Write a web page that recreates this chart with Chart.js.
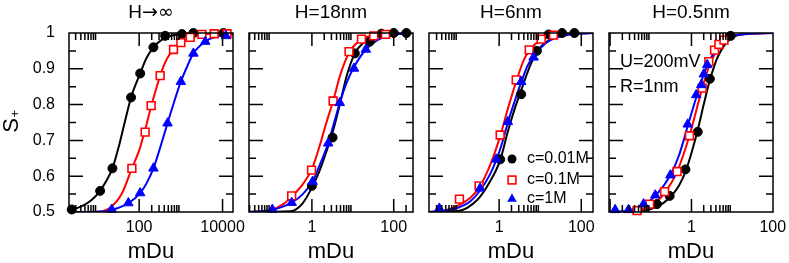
<!DOCTYPE html>
<html>
<head>
<meta charset="utf-8">
<script src="https://cdn.jsdelivr.net/npm/chart.js@4.4.1/dist/chart.umd.min.js"></script>
<style>
html, body { margin: 0; padding: 0; background: #fff; overflow: hidden; }
#wrap { position: relative; width: 789px; height: 263px; overflow: hidden; }
canvas { position: absolute; top: 0; }
</style>
</head>
<body>
<div id="wrap">
<canvas id="c1" width="249" height="263" style="left:0px"></canvas>
<canvas id="c2" width="184" height="263" style="left:239px"></canvas>
<canvas id="c3" width="184" height="263" style="left:419px"></canvas>
<canvas id="c4" width="192" height="263" style="left:599px"></canvas>
</div>
<script>
// panel titles, legend, notes
const titles = ['H\u2192\u221e', 'H=18nm', 'H=6nm', 'H=0.5nm']
const legendLabels = ['c=0.01M', 'c=0.1M', 'c=1M']
const notes = ['U=200mV', 'R=1nm']
const yTicks = [0.5, 0.6, 0.7, 0.8, 0.9, 1]

// x ranges and labelled ticks
const p1Range = [2.08, 17800]
const p2Range = [0.029, 296]
const p3Range = [0.0196, 193]
const p4Range = [0.0094, 101]
const p1XTicks = [100, 10000]
const p2XTicks = [1, 100]
const p3XTicks = [1, 100]
const p4XTicks = [1, 100]
const p1Major = [1, 100, 10000]
const pMajor = [0.01, 1, 100]

// H -> infinity
const p1Black = [[2.42,0.507],[11.6,0.559],[22.9,0.622],[64,0.82],[106,0.887],[220,0.96],[421,0.992],[1060,0.997],[2000,1.0],[10500,1.0]]
const p1Red = [[67,0.622],[139,0.723],[194,0.797],[319,0.881],[667,0.954],[1000,0.973],[1675,0.988],[3200,0.996],[6300,0.998],[12800,0.998]]
const p1Blue = [[22,0.507],[55,0.525],[106,0.553],[220,0.622],[479,0.748],[1000,0.864],[2000,0.943],[3850,0.976],[12000,0.992]]
const p1BlackFit = [[2.08,0.505],[4,0.515],[7,0.532],[11.6,0.559],[16,0.585],[22.9,0.622],[32,0.68],[45,0.75],[64,0.82],[106,0.887],[150,0.93],[220,0.96],[320,0.978],[500,0.99],[1000,0.997],[3000,1.0],[17800,1.0]]
const p1RedFit = [[2.08,0.5],[10,0.501],[20,0.512],[38,0.55],[67,0.622],[100,0.672],[139,0.73],[194,0.795],[250,0.84],[319,0.881],[450,0.925],[667,0.954],[1000,0.975],[1675,0.988],[3200,0.996],[17800,1.0]]
const p1BlueFit = [[2.08,0.5],[10,0.501],[22,0.506],[55,0.525],[106,0.553],[150,0.58],[220,0.622],[320,0.68],[479,0.748],[700,0.81],[1000,0.864],[1400,0.905],[2000,0.943],[3850,0.976],[7000,0.99],[17800,0.997]]

// H = 18nm
const p2Black = [[1.0,0.573],[3.2,0.708],[11.2,0.943],[26,0.976],[50,0.998],[100,1.0],[204,1.0]]
const p2Red = [[0.32,0.545],[0.98,0.617],[3.3,0.81],[8.1,0.948],[16.3,0.983],[32.5,0.992],[63,0.996]]
const p2Blue = [[0.108,0.507],[0.32,0.526],[1.04,0.585],[2.5,0.692],[4.8,0.805],[10.7,0.901],[20.8,0.954]]
const p2BlackFit = [[0.029,0.5],[0.3,0.502],[0.6,0.525],[1,0.568],[1.5,0.612],[2.2,0.665],[3.2,0.722],[4.8,0.8],[7,0.878],[11.2,0.943],[18,0.972],[26,0.985],[50,0.996],[296,1.0]]
const p2RedFit = [[0.029,0.5],[0.1,0.506],[0.2,0.522],[0.32,0.543],[0.6,0.578],[1,0.62],[1.5,0.68],[2.2,0.745],[3.3,0.81],[5,0.885],[8.1,0.945],[16.3,0.983],[32.5,0.994],[63,0.998],[296,1.0]]
const p2BlueFit = [[0.029,0.5],[0.108,0.506],[0.32,0.526],[0.6,0.55],[1.04,0.585],[1.6,0.635],[2.5,0.692],[3.5,0.75],[4.8,0.805],[7,0.86],[10.7,0.905],[20.8,0.954],[40,0.98],[100,0.995],[296,1.0]]

// H = 6nm
const p3Black = [[1.06,0.647],[3.44,0.829],[8.3,0.95],[16,0.996],[34,1.0],[68,1.0]]
const p3Red = [[0.108,0.536],[0.325,0.573],[1.06,0.715],[2.6,0.869],[5.4,0.953],[10.6,0.983],[21,0.994]]
const p3Blue = [[0.035,0.51],[0.344,0.566],[0.85,0.647],[1.63,0.752],[3.44,0.864],[6.9,0.932]]
const p3BlackFit = [[0.0196,0.5],[0.1,0.503],[0.3,0.535],[0.6,0.585],[1.06,0.645],[1.63,0.725],[2.5,0.795],[3.44,0.84],[6,0.915],[10,0.96],[20,0.985],[50,0.997],[193,1.0]]
const p3RedFit = [[0.0196,0.5],[0.05,0.505],[0.108,0.52],[0.2,0.54],[0.325,0.568],[0.6,0.63],[1.06,0.712],[1.6,0.785],[2.6,0.865],[4,0.925],[5.4,0.95],[10.6,0.982],[21,0.994],[60,0.999],[193,1.0]]
const p3BlueFit = [[0.0196,0.5],[0.035,0.502],[0.1,0.512],[0.2,0.53],[0.344,0.56],[0.6,0.605],[0.85,0.645],[1.2,0.695],[1.63,0.75],[2.4,0.81],[3.44,0.862],[5,0.91],[6.9,0.935],[15,0.975],[40,0.993],[193,1.0]]

// H = 0.5nm
const p4Black = [[0.142,0.522],[0.291,0.545],[0.711,0.619],[1.43,0.724],[2.83,0.872],[9.2,0.992]]
const p4Red = [[0.046,0.504],[0.094,0.522],[0.219,0.557],[0.444,0.613],[0.893,0.713],[1.84,0.846],[2.67,0.92],[3.7,0.952],[4.72,0.968],[6.3,0.98]]
const p4Blue = [[0.0133,0.506],[0.0283,0.506],[0.0664,0.522],[0.129,0.547],[0.303,0.603],[0.81,0.745],[1.31,0.827],[1.74,0.855],[2.01,0.885],[2.44,0.911]]
const p4BlackFit = [[0.0094,0.5],[0.05,0.501],[0.142,0.515],[0.291,0.54],[0.5,0.575],[0.711,0.612],[1,0.665],[1.43,0.73],[2,0.8],[2.83,0.868],[4.5,0.935],[9.2,0.985],[20,0.997],[101,1.0]]
const p4RedFit = [[0.0094,0.5],[0.046,0.503],[0.094,0.515],[0.219,0.553],[0.444,0.613],[0.893,0.713],[1.84,0.846],[2.67,0.905],[3.7,0.94],[6.3,0.975],[15,0.995],[101,1.0]]
const p4BlueFit = [[0.0094,0.5],[0.0283,0.504],[0.0664,0.52],[0.129,0.545],[0.303,0.603],[0.5,0.66],[0.81,0.74],[1.31,0.82],[2.01,0.885],[3,0.93],[6,0.975],[15,0.995],[101,1.0]]

const FONT = 'Liberation Sans, Arial, Helvetica, sans-serif'
const SYM_FONT = 'DejaVu Sans, sans-serif'
const BLACK = '#000000', RED = '#ff0000', BLUE = '#0000ff'

function markers(black, red, blue) {
    return [
        { data: blue, pointStyle: 'triangle', pointRadius: 5.5, backgroundColor: BLUE, borderColor: BLUE, borderWidth: 1, clip: false },
        { data: red, pointStyle: 'rect', pointRadius: 5.5, backgroundColor: '#fff', borderColor: RED, borderWidth: 1.6, clip: false },
        { data: black, pointStyle: 'circle', pointRadius: 4.5, backgroundColor: BLACK, borderColor: BLACK, borderWidth: 1, clip: false }
    ]
}

function curve(data, color) {
    return { data: data, showLine: true, pointRadius: 0, borderColor: color, borderWidth: 2, cubicInterpolationMode: 'monotone', fill: false }
}

// titel: H in Liberation, pijl en oneindig in DejaVu
function drawTitle(ctx, text, cx, cy) {
    const parts = [[text[0], '19px ' + FONT], [text.slice(1), (text[1] === '\u2192' ? '19px ' + SYM_FONT : '19px ' + FONT)]]
    let w = 0
    parts.forEach(p => { ctx.font = p[1]; w += ctx.measureText(p[0]).width })
    let x = cx - w / 2
    ctx.textAlign = 'left'
    ctx.textBaseline = 'middle'
    parts.forEach(p => { ctx.font = p[1]; ctx.fillText(p[0], x, cy); x += ctx.measureText(p[0]).width })
}

// frame, inward ticks, title and extras
const framePlugin = {
    id: 'frame',
    afterDraw(chart, args, o) {
        const { ctx, chartArea: a, scales } = chart
        const sx = scales.x, sy = scales.y
        ctx.save()
        ctx.strokeStyle = '#000'
        ctx.lineWidth = 1.5
        ctx.beginPath()
        o.major.forEach(m => {
            for (let k = 1; k <= 9; k++) {
                const px = sx.getPixelForValue(m * k)
                if (px < a.left + 0.5 || px > a.right - 0.5) continue
                const len = k === 1 ? 13 : 7
                ctx.moveTo(px, a.bottom); ctx.lineTo(px, a.bottom - len)
                ctx.moveTo(px, a.top); ctx.lineTo(px, a.top + len)
            }
        })
        for (let i = 1; i < 10; i++) {
            const v = 0.5 + i * 0.05
            const py = sy.getPixelForValue(v)
            const len = i % 2 === 0 ? 14 : 7
            ctx.moveTo(a.left, py); ctx.lineTo(a.left + len, py)
            ctx.moveTo(a.right, py); ctx.lineTo(a.right - len, py)
        }
        ctx.stroke()
        ctx.strokeRect(a.left, a.top, a.right - a.left, a.bottom - a.top)

        ctx.fillStyle = '#000'
        drawTitle(ctx, o.title, (a.left + a.right) / 2, 13)
        if (o.extra) o.extra(ctx, chart)
        ctx.restore()
    }
}

function yLabel(ctx) {
    ctx.save()
    ctx.translate(18, 125.5)
    ctx.rotate(-Math.PI / 2)
    ctx.textBaseline = 'alphabetic'
    ctx.textAlign = 'center'
    ctx.font = '22px ' + FONT
    ctx.fillText('S', 0, 0)
    ctx.textAlign = 'left'
    ctx.font = '13px ' + FONT
    ctx.fillText('+', 8, 1)
    ctx.restore()
}

function legend(ctx) {
    const x0 = 512 - 419
    const ys = [159, 180, 199]
    ctx.fillStyle = BLACK
    ctx.beginPath(); ctx.arc(x0, ys[0], 4.5, 0, Math.PI * 2); ctx.fill()
    ctx.strokeStyle = RED; ctx.lineWidth = 1.6
    ctx.fillStyle = '#fff'
    ctx.fillRect(x0 - 3.9, ys[1] - 3.9, 7.8, 7.8)
    ctx.strokeRect(x0 - 3.9, ys[1] - 3.9, 7.8, 7.8)
    ctx.fillStyle = BLUE
    ctx.beginPath()
    ctx.moveTo(x0, ys[2] - 5.5); ctx.lineTo(x0 + 4.76, ys[2] + 2.75); ctx.lineTo(x0 - 4.76, ys[2] + 2.75)
    ctx.closePath(); ctx.fill()
    ctx.fillStyle = '#000'
    ctx.font = '16px ' + FONT
    ctx.textAlign = 'left'
    ctx.textBaseline = 'middle'
    legendLabels.forEach((t, i) => ctx.fillText(t, 527 - 419, ys[i]))
}

function noteText(ctx) {
    ctx.fillStyle = '#000'
    ctx.font = '18px ' + FONT
    ctx.textAlign = 'left'
    ctx.textBaseline = 'middle'
    ctx.fillText(notes[0], 620 - 599, 62)
    ctx.fillText(notes[1], 620 - 599, 87)
}

function makePanel(id, o) {
    new Chart(document.getElementById(id), {
        type: 'scatter',
        data: {
            datasets: [
                ...markers(o.black, o.red, o.blue),
                curve(o.blueFit, BLUE),
                curve(o.redFit, RED),
                curve(o.blackFit, BLACK)
            ]
        },
        options: {
            responsive: false,
            animation: false,
            events: [],
            devicePixelRatio: 1,
            layout: { padding: { top: 33, left: o.padL, right: o.padR, bottom: 0 } },
            plugins: {
                legend: { display: false },
                tooltip: { enabled: false },
                frame: { title: o.title, major: o.major, extra: o.extra }
            },
            scales: {
                x: {
                    type: 'logarithmic',
                    min: o.range[0],
                    max: o.range[1],
                    bounds: 'data',
                    grid: { display: false, drawTicks: false },
                    border: { display: false },
                    afterBuildTicks: s => { s.ticks = o.xTicks.map(v => ({ value: v })) },
                    afterFit: s => { s.height = 51; s.paddingLeft = 0; s.paddingRight = 0 },
                    ticks: {
                        autoSkip: false, maxRotation: 0, padding: 6.4, color: '#000',
                        font: { size: 16, family: FONT },
                        callback: v => String(v)
                    },
                    title: { display: true, text: 'mDu', color: '#000', font: { size: 22, family: FONT, lineHeight: 1 }, padding: { top: 0, bottom: 0 } }
                },
                y: {
                    type: 'linear',
                    display: o.showY,
                    min: 0.5,
                    max: 1,
                    grid: { display: false, drawTicks: false },
                    border: { display: false },
                    afterBuildTicks: s => { s.ticks = yTicks.map(v => ({ value: v })) },
                    afterFit: s => { if (o.showY) s.width = 69; s.paddingTop = 0; s.paddingBottom = 0 },
                    ticks: {
                        padding: 14, color: '#000',
                        font: { size: 16, family: FONT },
                        callback: v => v === 1 ? '1' : v.toFixed(1)
                    }
                }
            }
        },
        plugins: [framePlugin]
    })
}

makePanel('c1', { title: titles[0], range: p1Range, xTicks: p1XTicks, major: p1Major, padL: 0, padR: 16, showY: true,
    black: p1Black, red: p1Red, blue: p1Blue, blackFit: p1BlackFit, redFit: p1RedFit, blueFit: p1BlueFit, extra: yLabel })
makePanel('c2', { title: titles[1], range: p2Range, xTicks: p2XTicks, major: pMajor, padL: 10, padR: 10, showY: false,
    black: p2Black, red: p2Red, blue: p2Blue, blackFit: p2BlackFit, redFit: p2RedFit, blueFit: p2BlueFit })
makePanel('c3', { title: titles[2], range: p3Range, xTicks: p3XTicks, major: pMajor, padL: 10, padR: 10, showY: false,
    black: p3Black, red: p3Red, blue: p3Blue, blackFit: p3BlackFit, redFit: p3RedFit, blueFit: p3BlueFit, extra: legend })
makePanel('c4', { title: titles[3], range: p4Range, xTicks: p4XTicks, major: pMajor, padL: 10, padR: 18, showY: false,
    black: p4Black, red: p4Red, blue: p4Blue, blackFit: p4BlackFit, redFit: p4RedFit, blueFit: p4BlueFit, extra: noteText })
</script>
</body>
</html>
